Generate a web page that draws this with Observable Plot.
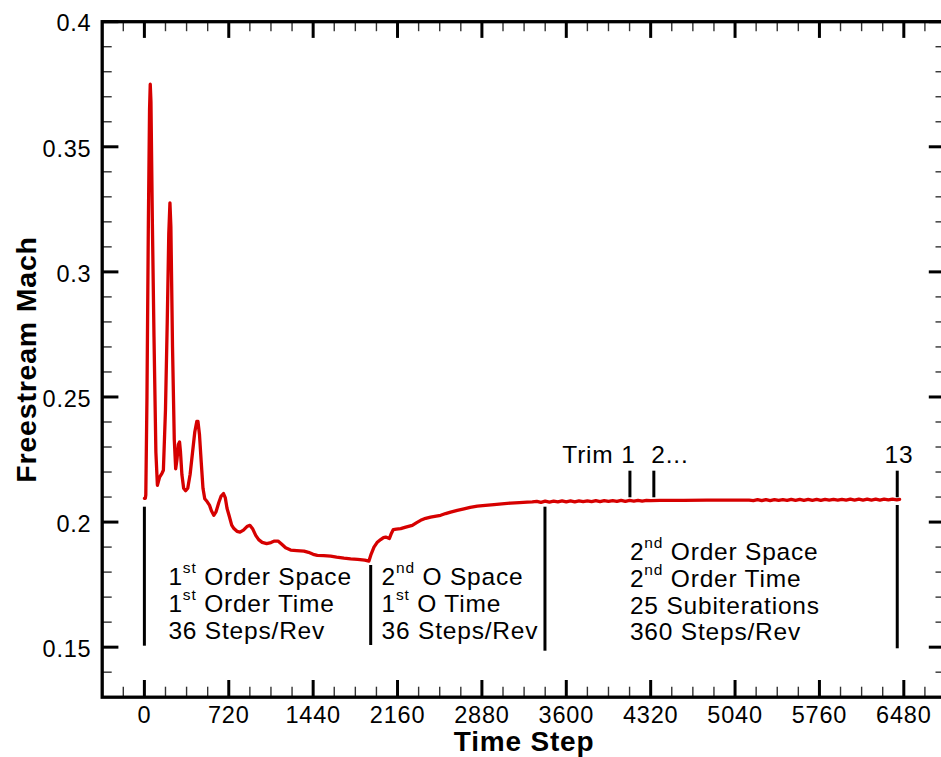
<!DOCTYPE html>
<html><head><meta charset="utf-8">
<script src="https://cdn.jsdelivr.net/npm/d3@7"></script>
<script src="https://cdn.jsdelivr.net/npm/@observablehq/plot@0.6"></script>
<style>
html,body{margin:0;padding:0;overflow:hidden;background:#fff;width:941px;height:757px}
#chart{width:941px;height:757px;overflow:hidden}
#chart svg{display:block;max-width:none !important}
#chart text{letter-spacing:0.8px}
</style></head><body><div id="chart"></div>
<script>
// Time steps and freestream Mach values
const steps = [0,8,12,22,34,44,50,56,68,82,98,111,130,150,162,180,195,208,218,226,240,255,267,278,290,300,308,320,335,352,370,390,410,430,447,457,470,485,500,515,535,555,572,592,612,635,655,675,690,705,722,745,764,790,816,845,875,900,925,950,975,1005,1043,1080,1110,1140,1170,1205,1248,1300,1362,1400,1440,1476,1530,1589,1640,1703,1760,1820,1880,1916,1935,1959,1985,2016,2040,2059,2075,2090,2105,2124,2150,2187,2230,2286,2320,2357,2400,2442,2490,2528,2570,2613,2670,2727,2780,2841,2910,2983,3050,3125,3200,3267,3310,
3348,3384,3420,3456,3492,3528,3564,3600,3636,3672,3708,3744,3780,3816,3852,3888,3924,3960,3996,4032,4068,4104,4140,4176,4212,4248,4284,4320,4400,4600,4800,5000,5160,
5196,5232,5268,5304,5340,5376,5412,5448,5484,5520,5556,5592,5628,5664,5700,5736,5772,5808,5844,5880,5916,5952,5988,6024,6060,6096,6132,6168,6204,6240,6276,6312,6348,6384,6420,6444];
const mach = [0.2095,0.2095,0.2108,0.25,0.32,0.365,0.375,0.368,0.32,0.274,0.228,0.2147,0.218,0.2195,0.2207,0.245,0.28,0.315,0.3276,0.318,0.27,0.233,0.2213,0.225,0.231,0.232,0.228,0.219,0.2135,0.2125,0.2135,0.219,0.2275,0.236,0.2402,0.2402,0.235,0.224,0.2135,0.2093,0.2082,0.2068,0.2045,0.2027,0.2042,0.2078,0.2104,0.2114,0.2098,0.2055,0.2027,0.1988,0.1974,0.1963,0.196,0.1968,0.1982,0.1987,0.1972,0.1947,0.193,0.1919,0.1914,0.1918,0.1924,0.1924,0.1912,0.1897,0.1888,0.1886,0.1884,0.1879,0.1871,0.1867,0.1866,0.1864,0.186,0.1856,0.1853,0.1851,0.1848,0.1844,0.1872,0.19,0.1918,0.193,0.1938,0.194,0.1937,0.1934,0.1952,0.197,0.1972,0.1974,0.198,0.1987,0.1997,0.2007,0.2015,0.202,0.2024,0.2027,0.2034,0.204,0.2047,0.2053,0.2059,0.2064,0.2067,0.207,0.2073,0.2076,0.2078,0.208,0.2081,
0.2083,0.2079,0.2084,0.2080,0.2084,0.2081,0.2085,0.2081,0.2085,0.2081,0.2085,0.2082,0.2085,0.2082,0.2086,0.2082,0.2086,0.2083,0.2086,0.2083,0.2087,0.2083,0.2087,0.2084,0.2087,0.2084,0.2087,0.2086,0.20865,0.2087,0.20875,0.2088,0.2088,
0.2086,0.2090,0.2086,0.2090,0.2086,0.2090,0.2087,0.2090,0.2087,0.2091,0.2087,0.2091,0.2087,0.2091,0.2087,0.2091,0.2087,0.2091,0.2088,0.2091,0.2088,0.2091,0.2088,0.2092,0.2088,0.2092,0.2088,0.2092,0.2088,0.2092,0.2088,0.2092,0.2089,0.2092,0.2089,0.2091];

// Axis ticks and labels
const xMajor = [0,720,1440,2160,2880,3600,4320,5040,5760,6480];
const xTickLabels = ["0","720","1440","2160","2880","3600","4320","5040","5760","6480"];
const xMinor = [-180,180,360,540,900,1080,1260,1620,1800,1980,2340,2520,2700,3060,3240,3420,3780,3960,4140,4500,4680,4860,5220,5400,5580,5940,6120,6300,6660];
const yMajor = [0.15,0.2,0.25,0.3,0.35,0.4];
const yTickLabels = ["0.15","0.2","0.25","0.3","0.35","0.4"];
const yMinor = [0.14,0.16,0.17,0.18,0.19,0.21,0.22,0.23,0.24,0.26,0.27,0.28,0.29,0.31,0.32,0.33,0.34,0.36,0.37,0.38,0.39];

// Phase separator lines and trim markers
const markerX  = [0,      1931,    3418,    6424,    4143,    4347,    6424];
const markerY1 = [0.15039,0.15067, 0.14839, 0.14935, 0.2097,  0.2097,  0.2097];
const markerY2 = [0.20595,0.18265, 0.20595, 0.20663, 0.22034, 0.22034, 0.22034];

// Annotation text blocks
const blockText = [
  "1^st Order Space\n1^st Order Time\n36 Steps/Rev",
  "2^nd O Space\n1^st O Time\n36 Steps/Rev",
  "2^nd Order Space\n2^nd Order Time\n25 Subiterations\n360 Steps/Rev"
];
const blockX = [205, 2024, 4143];
const blockY = [0.15335, 0.15335, 0.15267];

const trimText = ["Trim 1", "2...", "13"];
const trimX = [3566, 4325, 6439];
const trimAnchor = ["start", "start", "middle"];
const trimY = [0.22353, 0.22353, 0.22353];

const W = 948, H = 757, mL = 101.7, mR = 2.5, mT = 21.2, mB = 60.3;
const innerH = H - mT - mB, innerW = W - mL - mR;
const majorLen = 16.7, minorLen = 10;
const FONT = "'Liberation Sans', Arial, Helvetica, sans-serif";

const svg = Plot.plot({
  width: W, height: H,
  marginLeft: mL, marginRight: mR, marginTop: mT, marginBottom: mB,
  x: {domain: [-360, 6840], axis: null},
  y: {domain: [0.13, 0.4], axis: null},
  style: {fontFamily: FONT, background: "white", overflow: "visible", color: "black"},
  marks: [
    // minor ticks (inside, all four sides)
    Plot.ruleX(xMinor, {x: d => d, insetTop: innerH - minorLen, stroke: "#333", strokeWidth: 1.4}),
    Plot.ruleX(xMinor, {x: d => d, insetBottom: innerH - minorLen, stroke: "#333", strokeWidth: 1.4}),
    Plot.ruleY(yMinor, {y: d => d, insetRight: innerW - minorLen, stroke: "#333", strokeWidth: 1.4}),
    Plot.ruleY(yMinor, {y: d => d, insetLeft: innerW - minorLen, stroke: "#333", strokeWidth: 1.4}),
    // major ticks
    Plot.ruleX(xMajor, {x: d => d, insetTop: innerH - majorLen, stroke: "black", strokeWidth: 3}),
    Plot.ruleX(xMajor, {x: d => d, insetBottom: innerH - majorLen, stroke: "black", strokeWidth: 3}),
    Plot.ruleY(yMajor, {y: d => d, insetRight: innerW - majorLen, stroke: "black", strokeWidth: 3}),
    Plot.ruleY(yMajor, {y: d => d, insetLeft: innerW - majorLen, stroke: "black", strokeWidth: 3}),
    // tick labels
    Plot.text(xMajor, {x: d => d, text: (d, i) => xTickLabels[i], frameAnchor: "bottom", textAnchor: "middle", lineAnchor: "bottom", dy: 26, fontSize: 23.5, fill: "black"}),
    Plot.text(yMajor, {y: d => d, text: (d, i) => yTickLabels[i], frameAnchor: "left", textAnchor: "end", dx: -10.7, dy: 2.2, fontSize: 23.5, fill: "black"}),
    // axis titles
    Plot.text(["Time Step"], {text: d => d, frameAnchor: "bottom", textAnchor: "middle", lineAnchor: "bottom", dy: 54, fontSize: 28, fontWeight: "bold", fill: "black"}),
    Plot.text(["Freestream Mach"], {text: d => d, frameAnchor: "left", textAnchor: "middle", rotate: -90, lineAnchor: "bottom", dx: -66.7, fontSize: 28.5, fontWeight: "bold", fill: "black"}),
    // data curve
    Plot.line(steps, {x: steps, y: mach, stroke: "#d60000", strokeWidth: 3.3, strokeLinejoin: "round", curve: "linear"}),
    // phase separators / trim markers
    Plot.ruleX(markerX, {x: markerX, y1: markerY1, y2: markerY2, stroke: "black", strokeWidth: 3}),
    // annotation blocks
    Plot.text(blockText, {x: blockX, y: blockY, text: d => d, textAnchor: "start", lineAnchor: "bottom", lineHeight: 26.7 / 24.5, fontSize: 24.5, fill: "black"}),
    Plot.text(trimText, {x: trimX, y: trimY, text: d => d, filter: (d, i) => trimAnchor[i] === "start", textAnchor: "start", lineAnchor: "bottom", fontSize: 24.5, fill: "black"}),
    Plot.text(trimText, {x: trimX, y: trimY, text: d => d, filter: (d, i) => trimAnchor[i] === "middle", textAnchor: "middle", lineAnchor: "bottom", fontSize: 24.5, fill: "black"}),
    Plot.frame({stroke: "black", strokeWidth: 3.3})
  ]
});
svg.style.maxWidth = "none";
svg.style.width = W + "px";
svg.style.height = H + "px";

// Superscripts: "1^st" -> 1 with raised "st"
svg.querySelectorAll("text, tspan").forEach(el => {
  if (el.children.length === 0 && el.textContent.includes("^")) {
    const s = el.textContent;
    const m = s.match(/^(.*?)\^(\w+)(.*)$/);
    if (!m) return;
    el.textContent = "";
    el.appendChild(document.createTextNode(m[1]));
    const sup = document.createElementNS("http://www.w3.org/2000/svg", "tspan");
    sup.setAttribute("dy", "-12.5");
    sup.setAttribute("font-size", "15.5");
    sup.textContent = m[2];
    el.appendChild(sup);
    const rest = document.createElementNS("http://www.w3.org/2000/svg", "tspan");
    rest.setAttribute("dy", "12.5");
    rest.textContent = m[3];
    el.appendChild(rest);
  }
});
document.getElementById("chart").appendChild(svg);
</script></body></html>
